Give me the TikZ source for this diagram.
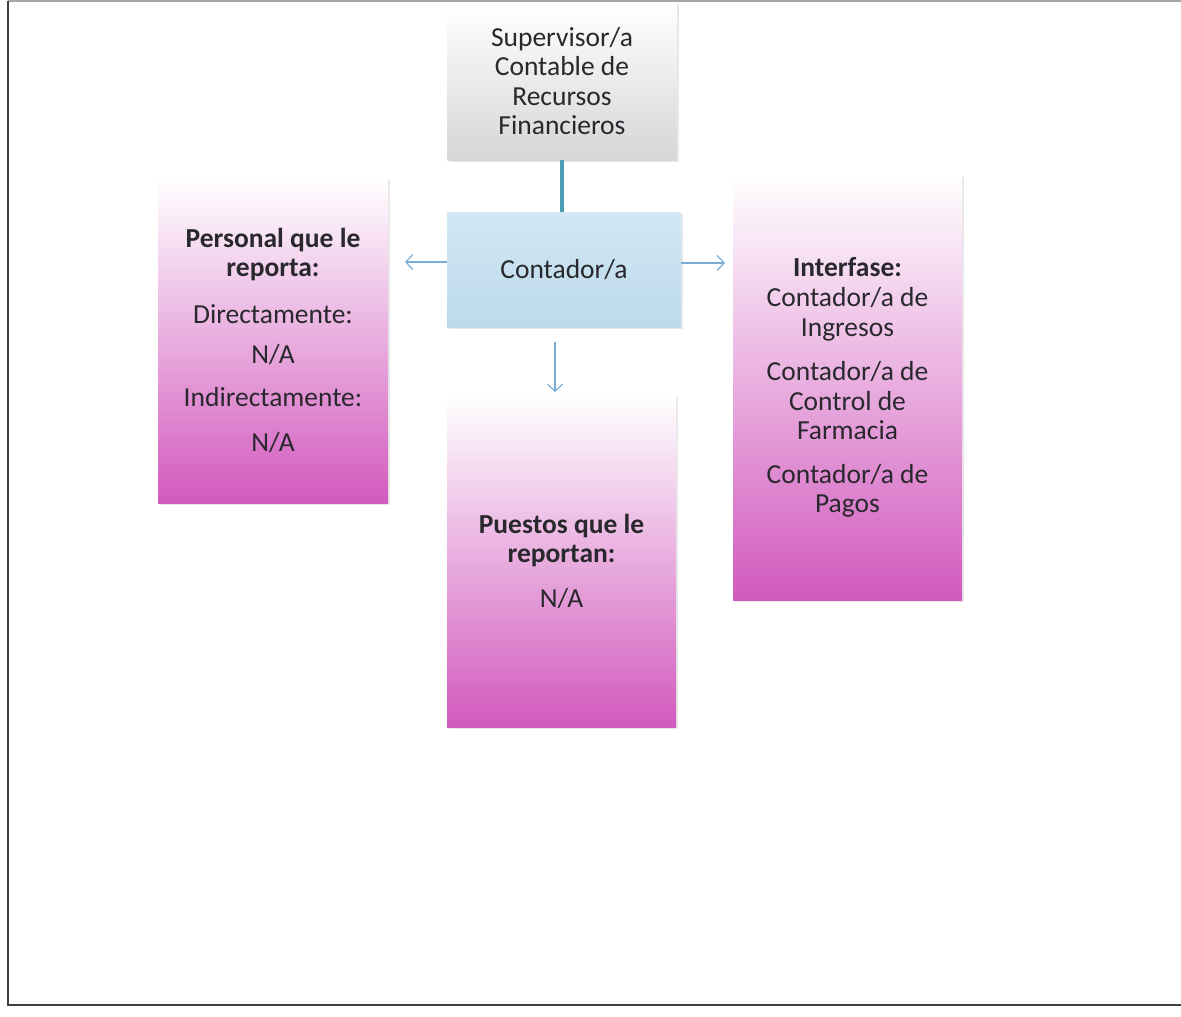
\documentclass[tikz,border=0pt]{standalone}
\usepackage{fontspec}
\setmainfont{Carlito}
\usetikzlibrary{arrows.meta,shadows}
\definecolor{orgpink}{RGB}{210,90,190}
\definecolor{orgpinkmid}{RGB}{238,186,229}
\definecolor{orgbluetop}{RGB}{210,232,244}
\definecolor{orgbluebot}{RGB}{188,217,235}
\definecolor{orgteal}{RGB}{74,157,180}
\definecolor{orgarrow}{RGB}{122,174,214}
\definecolor{orggray}{RGB}{214,214,216}
\definecolor{orgtext}{RGB}{40,40,45}
\begin{document}
\begin{tikzpicture}[x=1pt, y=-1pt, font=\fontsize{27.5}{29.5}\selectfont,
  orgbox/.style={align=center, inner sep=0pt, text=orgtext,
    drop shadow={opacity=0.18, shadow xshift=2pt, shadow yshift=-2pt}},
  pinkbox/.style={orgbox, top color=white, middle color=orgpinkmid, bottom color=orgpink},
  bluebox/.style={orgbox, top color=orgbluetop, bottom color=orgbluebot},
  graybox/.style={orgbox, top color=white, bottom color=orggray},
  arr/.style={orgarrow, line width=1.2pt, -{Straight Barb[length=7pt,width=15pt]}}]
\useasboundingbox (0,0) rectangle (1181,1017);
% Frame
\draw[line width=1.2pt, black!35] (1181,1) -- (8,1);
\draw[line width=1.6pt, black!75] (8,1) -- (8,1005) -- (1181,1005);
% Boxes
\node[graybox, minimum width=229pt, minimum height=158pt] (sup) at (562,81)
  {Supervisor/a\\Contable de\\Recursos\\Financieros};
\node[bluebox, minimum width=234pt, minimum height=115pt] (cont) at (564,269.5)
  {Contador/a};
\node[pinkbox, minimum width=230pt, minimum height=325pt] (pers) at (273,340.5)
  {\textbf{Personal que le}\\\textbf{reporta:}\\[17pt]
   Directamente:\\[11pt] N/A\\[13pt] Indirectamente:\\[16pt] N/A};
\node[pinkbox, minimum width=229pt, minimum height=425pt] (inter) at (847.5,387.5)
  {\textbf{Interfase:}\\[1pt] Contador/a de\\Ingresos\\[15pt]
   Contador/a de\\Control de\\Farmacia\\[14pt] Contador/a de\\Pagos};
\node[pinkbox, minimum width=229pt, minimum height=332pt] (puest) at (561.5,561)
  {\textbf{Puestos que le}\\\textbf{reportan:}\\[15pt] N/A};
% Connectors
\draw[orgteal, line width=4pt] (sup.south) -- (sup.south |- cont.north);
\coordinate (persin) at (405,262);
\coordinate (interin) at (725,263);
\coordinate (puestin) at (555,392);
\draw[arr] (cont.west |- persin) -- (persin);
\draw[arr] (cont.east |- interin) -- (interin);
\draw[arr, shorten <=15pt] (cont.south -| puestin) -- (puestin);
\end{tikzpicture}
\end{document}
